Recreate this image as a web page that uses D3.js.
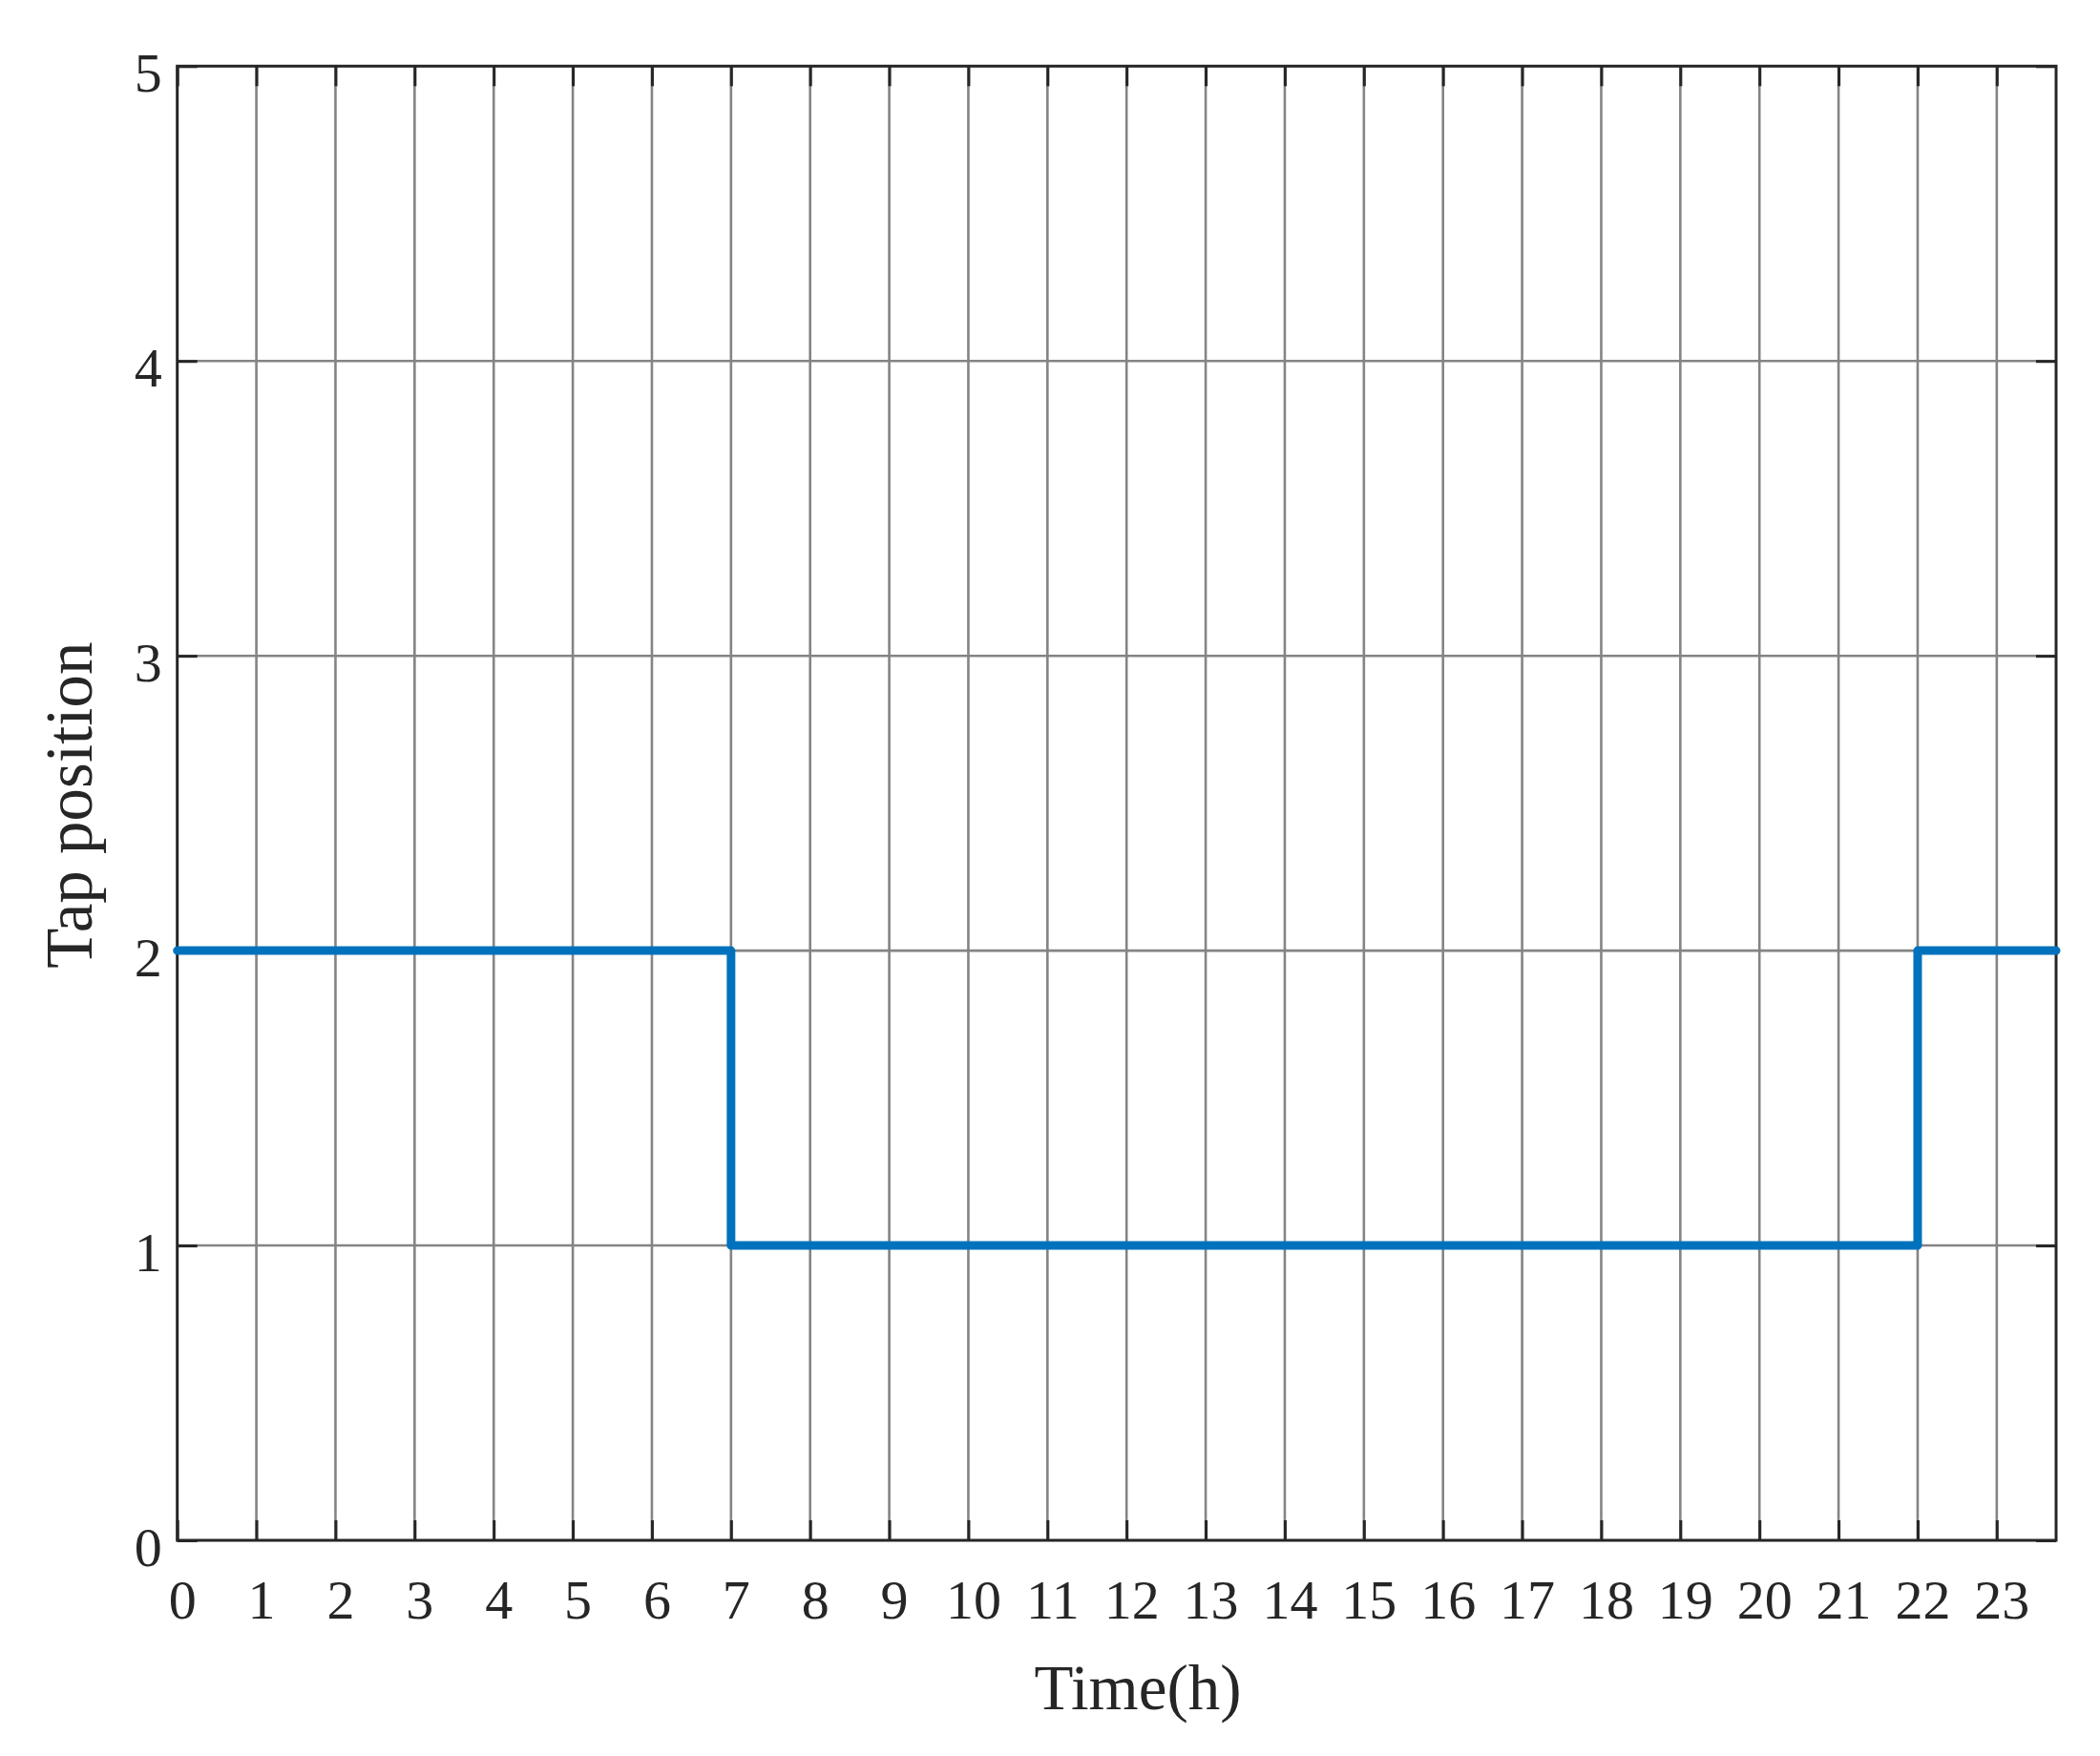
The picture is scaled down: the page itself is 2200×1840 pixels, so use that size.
<!DOCTYPE html>
<html>
<head>
<meta charset="utf-8">
<script src="https://cdn.jsdelivr.net/npm/d3@7"></script>
<style>
  html, body { margin: 0; padding: 0; background: #fff; }
  svg { display: block; }
  text { font-family: "Liberation Serif", "Times New Roman", serif; fill: #262626; }
</style>
</head>
<body>
<script>
// ---- data ----
const hours = [0,1,2,3,4,5,6,7,8,9,10,11,12,13,14,15,16,17,18,19,20,21,22,23];
const tapPosition = [2,2,2,2,2,2,2,1,1,1,1,1,1,1,1,1,1,1,1,1,1,1,2,2];
const xTicks = [0,1,2,3,4,5,6,7,8,9,10,11,12,13,14,15,16,17,18,19,20,21,22,23];
const yTicks = [0,1,2,3,4,5];
const xLabel = "Time(h)";
const yLabel = "Tap position";

(function () {
// ---- layout ----
const W = 2200, H = 1840;
const pL = 185.7, pR = 2154, pT = 69.3, pB = 1614;
const xDomain = [0, 23.75];
const yDomain = [0, 5];

const svg = d3.select("body").append("svg").attr("width", W).attr("height", H);

const x = d3.scaleLinear().domain(xDomain).range([pL, pR]);
const y = d3.scaleLinear().domain(yDomain).range([pB, pT]);

// grid lines
const grid = svg.append("g");
grid.selectAll("line.vx").data(xTicks.filter(d => d > 0)).join("line")
  .attr("class", "vx")
  .attr("x1", d => x(d)).attr("x2", d => x(d))
  .attr("y1", pT).attr("y2", pB)
  .attr("stroke", "#848484").attr("stroke-width", 2.6);
grid.selectAll("line.hy").data(yTicks.filter(d => d > 0 && d < 5)).join("line")
  .attr("class", "hy")
  .attr("x1", pL).attr("x2", pR)
  .attr("y1", d => y(d)).attr("y2", d => y(d))
  .attr("stroke", "#848484").attr("stroke-width", 2.6);

// axes (ticks inward)
const tickLen = 21;
const axisColor = "#262626";
function styleAxis(g) {
  g.select(".domain").remove();
  g.selectAll(".tick line").attr("stroke", axisColor).attr("stroke-width", 3);
}
const gBottom = svg.append("g").attr("transform", `translate(0,${pB})`)
  .call(d3.axisBottom(x).tickValues(xTicks).tickSizeInner(-tickLen).tickSizeOuter(0).tickFormat(d3.format("d")));
styleAxis(gBottom);
gBottom.selectAll(".tick text")
  .attr("y", 82).attr("dy", null).attr("dx", 5)
  .style("font-size", "58px").style("font-family", "Liberation Serif").attr("fill", "#262626");

const gTop = svg.append("g").attr("transform", `translate(0,${pT})`)
  .call(d3.axisTop(x).tickValues(xTicks).tickSizeInner(-tickLen).tickSizeOuter(0).tickFormat(""));
styleAxis(gTop);

const gLeft = svg.append("g").attr("transform", `translate(${pL},0)`)
  .call(d3.axisLeft(y).tickValues(yTicks).tickSizeInner(-tickLen).tickSizeOuter(0).tickFormat(d3.format("d")));
styleAxis(gLeft);
gLeft.selectAll(".tick text")
  .attr("x", -16).attr("dy", 26)
  .style("font-size", "58px").style("font-family", "Liberation Serif").attr("fill", "#262626");

const gRight = svg.append("g").attr("transform", `translate(${pR},0)`)
  .call(d3.axisRight(y).tickValues(yTicks).tickSizeInner(-tickLen).tickSizeOuter(0).tickFormat(""));
styleAxis(gRight);

// box
svg.append("rect")
  .attr("x", pL).attr("y", pT)
  .attr("width", pR - pL).attr("height", pB - pT)
  .attr("fill", "none").attr("stroke", axisColor).attr("stroke-width", 3);

// step line
const pts = hours.map((h, i) => [h, tapPosition[i]]);
pts.push([xDomain[1], tapPosition[tapPosition.length - 1]]);
const line = d3.line().x(d => x(d[0])).y(d => y(d[1])).curve(d3.curveStepAfter);
svg.append("path")
  .attr("d", line(pts))
  .attr("fill", "none")
  .attr("stroke", "#0072BD")
  .attr("stroke-width", 9)
  .attr("stroke-linejoin", "round")
  .attr("stroke-linecap", "round");

// axis labels
svg.append("text")
  .attr("x", 1192).attr("y", 1791)
  .attr("text-anchor", "middle")
  .style("font-size", "67px")
  .text(xLabel);
svg.append("text")
  .attr("transform", `translate(96,${(pT + pB) / 2 + 2}) rotate(-90)`)
  .attr("text-anchor", "middle")
  .style("font-size", "69px")
  .text(yLabel);
})();
</script>
</body>
</html>
